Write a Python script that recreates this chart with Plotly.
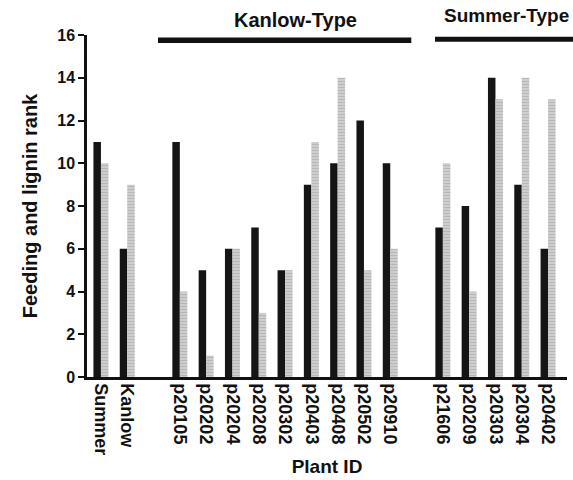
import plotly.graph_objects as go

categories = ["Summer", "Kanlow", " ", "p20105", "p20202", "p20204", "p20208", "p20302",
              "p20403", "p20408", "p20502", "p20910", "  ", "p21606", "p20209", "p20303",
              "p20304", "p20402"]
plants = ["Summer", "Kanlow", "p20105", "p20202", "p20204", "p20208", "p20302",
          "p20403", "p20408", "p20502", "p20910", "p21606", "p20209", "p20303",
          "p20304", "p20402"]
feeding_rank = [11, 6, 11, 5, 6, 7, 5, 9, 10, 12, 10, 7, 8, 14, 9, 6]
lignin_rank = [10, 9, 4, 1, 6, 3, 5, 11, 14, 5, 6, 10, 4, 13, 14, 13]
y_ticks = [0, 2, 4, 6, 8, 10, 12, 14, 16]

fig = go.Figure()
fig.add_trace(go.Bar(x=plants, y=feeding_rank, name="Feeding rank",
                     marker=dict(color="#151515", line=dict(width=0))))
fig.add_trace(go.Bar(x=plants, y=lignin_rank, name="Lignin rank",
                     marker=dict(color="#c4c4c4", line=dict(width=0),
                                 pattern=dict(shape="-", fgcolor="#a2a2a2", bgcolor="#cdcdcd",
                                              size=3, solidity=0.35))))

font_b = "Liberation Sans"
fig.update_layout(
    width=573, height=480,
    margin=dict(l=87, r=6, t=35, b=103, autoexpand=False),
    barmode="group", bargap=0.43, bargroupgap=0,
    plot_bgcolor="white", paper_bgcolor="white",
    showlegend=False,
    font=dict(family=font_b, color="#111", size=14),
    xaxis=dict(type="category", categoryorder="array", categoryarray=categories,
               range=[-0.53, 17.72], tickangle=90, showline=True, linecolor="#111",
               linewidth=2.5, ticks="", showgrid=False, automargin=False,
               tickfont=dict(family=font_b, size=18, color="#111", weight="bold"),
               title=dict(text="<b>Plant ID</b>", font=dict(size=19), standoff=6)),
    yaxis=dict(range=[0, 16], tickvals=y_ticks, showline=True, linecolor="#111",
               linewidth=2.5, ticks="outside", ticklen=6, tickwidth=2, tickcolor="#111",
               showgrid=False, zeroline=False, automargin=False,
               tickfont=dict(family=font_b, size=16, color="#111", weight="bold"),
               title=dict(text="<b>Feeding and lignin rank</b>", font=dict(size=20), standoff=15)),
)

fig.add_shape(type="line", xref="x", yref="y", x0=2.17, x1=11.8, y0=15.75, y1=15.75,
              line=dict(color="#111", width=5.5))
fig.add_shape(type="line", xref="paper", yref="y", x0=(435 - 87) / 480, x1=1.02, y0=15.8, y1=15.8,
              line=dict(color="#111", width=5))
fig.add_annotation(x=(295 - 87) / 480, xref="paper", y=1 + (35 - 20) / 342, yref="paper",
                   xanchor="center", yanchor="middle",
                   text="<b>Kanlow-Type</b>", showarrow=False, font=dict(size=20))
fig.add_annotation(x=(571 - 87) / 480, xref="paper", y=1 + (35 - 15) / 342, yref="paper",
                   xanchor="right", yanchor="middle",
                   text="<b>Summer-Type</b>", showarrow=False, font=dict(size=19))

fig.write_html("out.html", config={"displayModeBar": False},
               post_script="document.body.style.margin='0px';")
